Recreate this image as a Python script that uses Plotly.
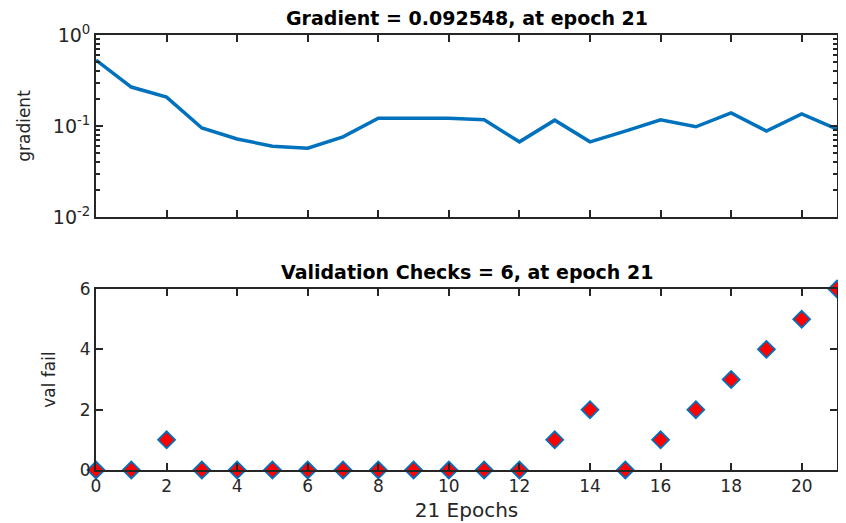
import plotly.graph_objects as go
from plotly.subplots import make_subplots

epochs = list(range(22))
gradient = [0.53, 0.268, 0.208, 0.095, 0.072, 0.060, 0.057, 0.076, 0.122, 0.122, 0.122,
            0.117, 0.067, 0.116, 0.067, 0.088, 0.117, 0.098, 0.139, 0.088, 0.136, 0.092548]
val_fail = [0, 0, 1, 0, 0, 0, 0, 0, 0, 0, 0, 0, 0, 1, 2, 0, 1, 2, 3, 4, 5, 6]

x_ticks = list(range(0, 21, 2))
log_ticks = [0.01, 0.1, 1]
log_labels = ["10<sup>-2</sup>", "10<sup>-1</sup>", "10<sup>0</sup>"]
minor_log = [m * d for d in (0.01, 0.1) for m in range(2, 10)]

AXIS = "#262626"
BLUE = "#0072BD"
FONT = "DejaVu Sans, Arial, sans-serif"

# page body has an 8px margin, so the figure is 8px smaller each way
fig = make_subplots(rows=2, cols=1, vertical_spacing=0.0)

fig.add_trace(go.Scatter(x=epochs, y=gradient, mode="lines",
                         line=dict(color=BLUE, width=3.5), showlegend=False), row=1, col=1)
fig.add_trace(go.Scatter(x=epochs, y=val_fail, mode="markers",
                         marker=dict(symbol="diamond", size=13, color="red",
                                     line=dict(color=BLUE, width=1.8)),
                         cliponaxis=False, showlegend=False), row=2, col=1)

common = dict(showline=True, linecolor=AXIS, linewidth=1.8, mirror="ticks",
              ticks="inside", tickcolor=AXIS, tickwidth=1.5, ticklen=7,
              showgrid=False, zeroline=False, automargin=False,
              tickfont=dict(family=FONT, size=17, color=AXIS))

fig.update_xaxes(range=[0, 21], tickvals=x_ticks, **common)
fig.update_xaxes(showticklabels=False, domain=[0, 1], row=1, col=1)
fig.update_xaxes(title=dict(text="21 Epochs", font=dict(family=FONT, size=20, color=AXIS), standoff=8),
                 row=2, col=1)

fig.update_yaxes(**common)
fig.update_yaxes(type="log", range=[-2, 0], tickvals=log_ticks, ticktext=log_labels,
                 tickfont=dict(family=FONT, size=19, color=AXIS),
                 minor=dict(tickvals=minor_log, ticks="inside", ticklen=4, tickcolor=AXIS),
                 title=dict(text="gradient", font=dict(family=FONT, size=17, color=AXIS), standoff=18),
                 domain=[0.5816, 1.0], row=1, col=1)
fig.update_yaxes(range=[0, 6], tickvals=[0, 2, 4, 6],
                 title=dict(text="val fail", font=dict(family=FONT, size=17, color=AXIS), standoff=20),
                 domain=[0.0, 0.416], row=2, col=1)

fig.add_annotation(text="<b>Gradient = 0.092548, at epoch 21</b>", xref="paper", yref="paper",
                   x=0.5, y=1.0, yanchor="bottom", yshift=4, showarrow=False,
                   font=dict(family=FONT, size=19, color="black"))
fig.add_annotation(text="<b>Validation Checks = 6, at epoch 21</b>", xref="paper", yref="paper",
                   x=0.5, y=0.416, yanchor="bottom", yshift=4, showarrow=False,
                   font=dict(family=FONT, size=19, color="black"))

fig.update_layout(width=838, height=515, margin=dict(l=88, r=9, t=27, b=53),
                  plot_bgcolor="white", paper_bgcolor="white",
                  font=dict(family=FONT, color=AXIS))

fig.write_html("out.html")
